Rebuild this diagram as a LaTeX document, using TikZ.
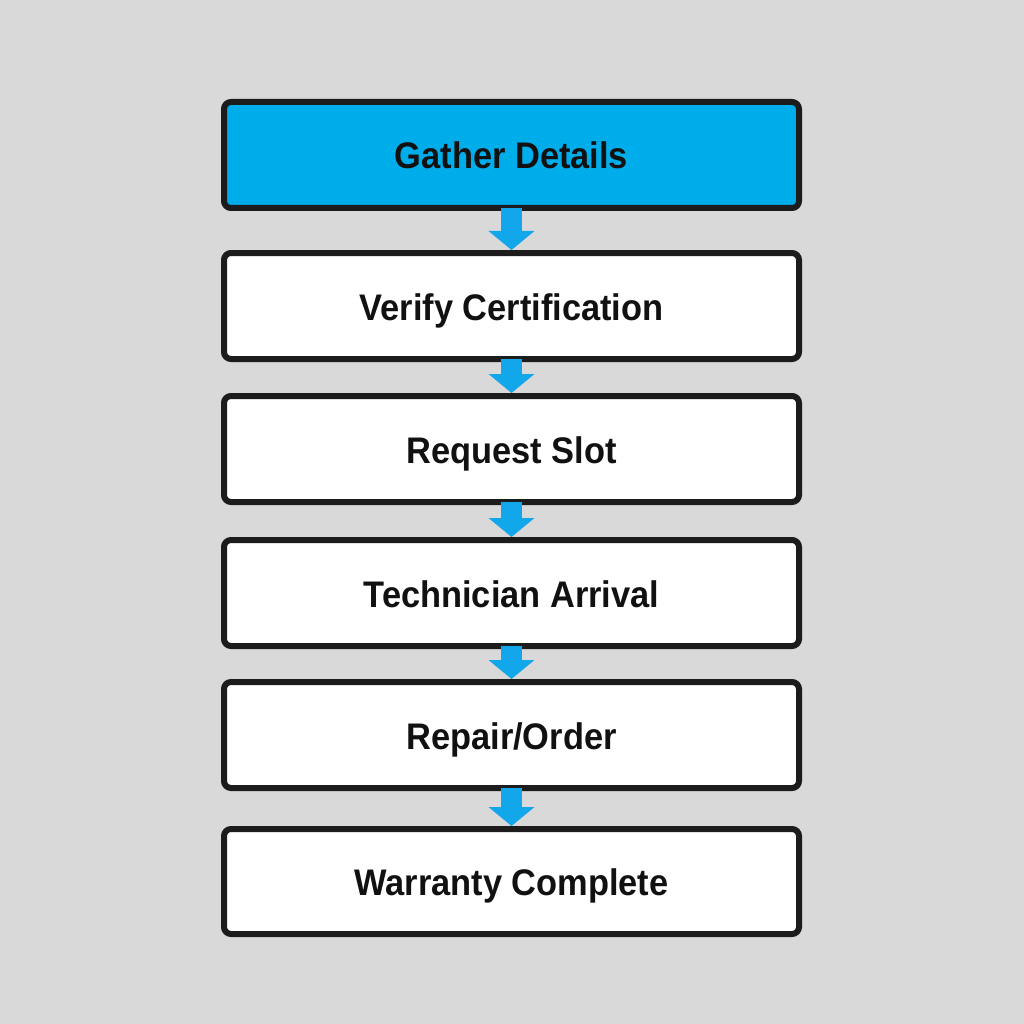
\documentclass[tikz,border=0pt]{standalone}
\usepackage{fontspec}
\setmainfont{Liberation Sans}[FakeStretch=0.93]
\usetikzlibrary{arrows.meta}
\definecolor{bg}{HTML}{D9D9D9}
\definecolor{boxblue}{HTML}{00ADEB}
\definecolor{arrblue}{HTML}{12A6EA}
\definecolor{edge}{HTML}{1C1C1C}
\definecolor{txt}{HTML}{111111}
\tikzset{
  stepbox/.style={draw=edge, line width=6pt, rounded corners=7pt, fill=white,
    minimum width=575pt, minimum height=106pt, inner sep=0pt,
    text height=28pt, text depth=0pt,
    font=\fontsize{37}{40}\selectfont\bfseries, text=txt},
  flowarrow/.style={draw=arrblue, line width=21pt,
    -{Triangle[width=45pt,length=19pt]}, arrblue, shorten <=-3pt}
}
\begin{document}
\begin{tikzpicture}[x=1pt,y=-1pt]
\fill[bg] (0,0) rectangle (1024,1024);
\useasboundingbox (0,0) rectangle (1024,1024);
\node[stepbox, fill=boxblue] (s1) at (511.5,155) {Gather Details};
\node[stepbox] (s2) at (511.5,306) {Verify Certification};
\node[stepbox] (s3) at (511.5,449) {Request Slot};
\node[stepbox] (s4) at (511.5,593) {Technician Arrival};
\node[stepbox] (s5) at (511.5,735) {Repair/Order};
\node[stepbox, minimum height=105pt] (s6) at (511.5,881.5) {Warranty Complete};
\draw[flowarrow] (s1.south) -- (s2.north);
\draw[flowarrow] (s2.south) -- (s3.north);
\draw[flowarrow] (s3.south) -- (s4.north);
\draw[flowarrow] (s4.south) -- (s5.north);
\draw[flowarrow] (s5.south) -- (s6.north);
\end{tikzpicture}
\end{document}
